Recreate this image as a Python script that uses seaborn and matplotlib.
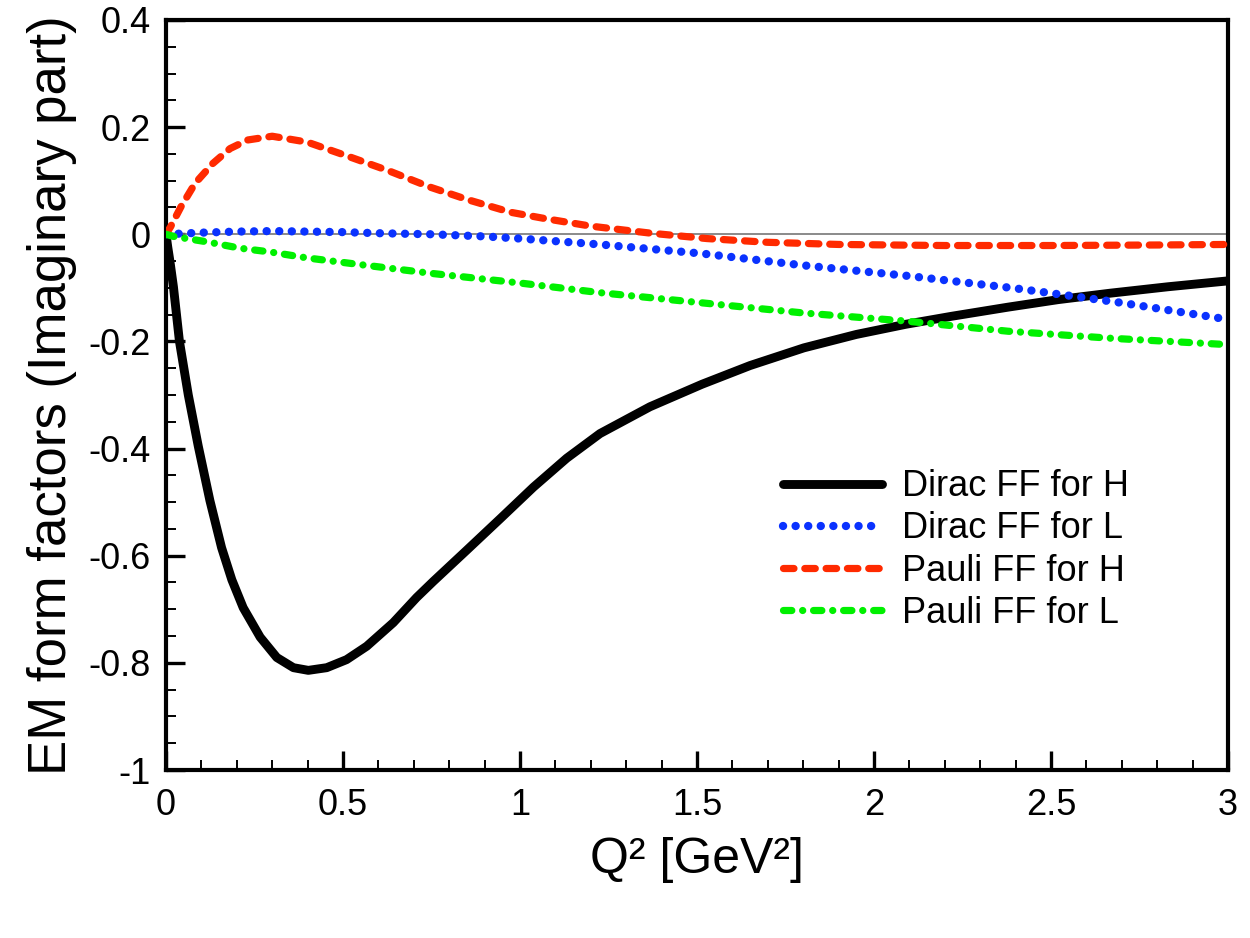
import numpy as np
import pandas as pd
import seaborn as sns
import matplotlib.pyplot as plt
from matplotlib.ticker import MultipleLocator, FixedLocator

# values
dirac_h_x = [0, 0.005, 0.011, 0.021, 0.038, 0.063, 0.091, 0.124, 0.157, 0.186, 0.218, 0.266, 0.313,
             0.36, 0.402, 0.454, 0.51, 0.567, 0.642, 0.708, 0.755, 0.849, 0.944, 1.038, 1.132, 1.226,
             1.367, 1.514, 1.65, 1.802, 1.95, 2.09, 2.22, 2.379, 2.52, 2.667, 2.83, 3.0]
dirac_h_y = [0, -0.024, -0.05, -0.098, -0.2, -0.300, -0.395, -0.497, -0.585, -0.645, -0.697, -0.752, -0.790,
             -0.809, -0.814, -0.809, -0.794, -0.769, -0.725, -0.678, -0.648, -0.590, -0.531, -0.472, -0.418,
             -0.372, -0.322, -0.28, -0.245, -0.212, -0.187, -0.168, -0.153, -0.136, -0.122, -0.110, -0.098, -0.087]

dirac_l_x = [0, 0.1, 0.2, 0.3, 0.4, 0.5, 0.6, 0.75, 0.9, 1.0, 1.226, 1.514, 1.8, 2.1, 2.4, 2.7, 3.0]
dirac_l_y = [0, 0.003, 0.005, 0.006, 0.005, 0.004, 0.002, 0.0, -0.004, -0.008, -0.019, -0.036, -0.058,
             -0.078, -0.101, -0.128, -0.159]

pauli_h_x = [0, 0.013, 0.042, 0.082, 0.132, 0.181, 0.231, 0.3, 0.399, 0.508, 0.627, 0.746, 0.855, 0.974,
             1.073, 1.202, 1.37, 1.528, 1.7, 1.9, 2.2, 2.5, 2.8, 3.0]
pauli_h_y = [0, 0.014, 0.051, 0.095, 0.132, 0.160, 0.176, 0.183, 0.172, 0.147, 0.119, 0.088, 0.064, 0.041,
             0.029, 0.015, 0.002, -0.008, -0.015, -0.019, -0.021, -0.021, -0.020, -0.019]

pauli_l_x = [0, 0.021, 0.115, 0.209, 0.294, 0.397, 0.529, 0.75, 1.0, 1.226, 1.514, 1.802, 2.09, 2.379, 2.667, 3.0]
pauli_l_y = [0, -0.004, -0.014, -0.026, -0.033, -0.044, -0.055, -0.073, -0.091, -0.109, -0.128, -0.147,
             -0.162, -0.181, -0.194, -0.206]

labels = ['Dirac FF for H', 'Dirac FF for L', 'Pauli FF for H', 'Pauli FF for L']
y_ticks = [0.4, 0.2, 0, -0.2, -0.4, -0.6, -0.8, -1]
y_tick_labels = ['0.4', '0.2', '0', '-0.2', '-0.4', '-0.6', '-0.8', '-1']
x_ticks = [0, 0.5, 1, 1.5, 2, 2.5, 3]
x_tick_labels = ['0', '0.5', '1', '1.5', '2', '2.5', '3']

sns.set_style('white')
plt.rcParams['font.family'] = ['Liberation Sans', 'DejaVu Sans']
plt.rcParams['text.color'] = 'black'
plt.rcParams['axes.labelcolor'] = 'black'

fig = plt.figure(figsize=(12.5, 9.38), dpi=100)
ax = fig.add_axes([0.1328, 0.1791, 0.8496, 0.7996])

# zero reference line
ax.axhline(0, color='#777777', lw=1.2, zorder=1)

series = [
    (dirac_h_x, dirac_h_y, '#000000', 6.4, None),
    (dirac_l_x, dirac_l_y, '#0a32ff', 6.0, (0, (0.01, 1.5))),
    (pauli_h_x, pauli_h_y, '#ff2a00', 5.2, (0, (1.45, 1.5))),
    (pauli_l_x, pauli_l_y, '#00f000', 5.2, (0, (1.15, 1.5, 0.01, 1.5))),
]
for (xs, ys, col, lw, ls), lab in zip(series, labels):
    df = pd.DataFrame({'Q2': xs, 'ff': ys})
    sns.lineplot(data=df, x='Q2', y='ff', ax=ax, color=col, lw=lw, label=lab,
                 sort=False, estimator=None, zorder=3)
    line = ax.lines[-1]
    if ls is not None:
        line.set_linestyle(ls)
    line.set_dash_capstyle('round')
    line.set_solid_capstyle('round')
    line.set_solid_joinstyle('round')
    line.set_dash_joinstyle('round')

ax.set_xlim(0, 3)
ax.set_ylim(-1, 0.4)
ax.xaxis.set_major_locator(FixedLocator(x_ticks))
ax.set_xticklabels(x_tick_labels)
ax.yaxis.set_major_locator(FixedLocator(y_ticks))
ax.set_yticklabels(y_tick_labels)
ax.xaxis.set_minor_locator(MultipleLocator(0.1))
ax.yaxis.set_minor_locator(MultipleLocator(0.05))

ax.tick_params(which='both', direction='in', bottom=True, left=True, top=False, right=False,
               labelsize=26, colors='black', labelcolor='black')
ax.tick_params(which='major', length=14, width=2.4)
ax.tick_params(which='minor', length=7, width=1.4)
ax.tick_params(axis='x', pad=13)
ax.tick_params(axis='y', pad=11)

for sp in ax.spines.values():
    sp.set_visible(True)
    sp.set_color('black')
    sp.set_linewidth(3)

ax.set_xlabel('Q² [GeV²]', fontsize=36, labelpad=10)
ax.set_ylabel('EM form factors (Imaginary part)', fontsize=38, labelpad=8)

leg = ax.legend(loc='upper left', bbox_to_anchor=(0.581, 0.401), frameon=False, fontsize=26,
                handlelength=2.75, handletextpad=0.55, labelspacing=0.2, borderpad=0, borderaxespad=0)
for t in leg.get_texts():
    t.set_color('black')

fig.savefig('out.png', dpi=100)
